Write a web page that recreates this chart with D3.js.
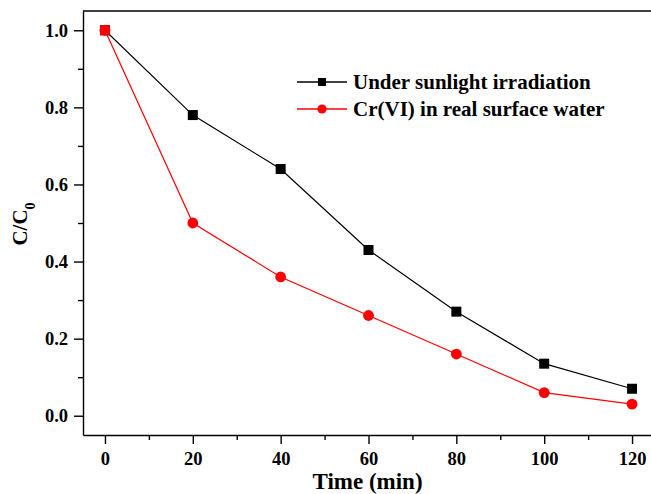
<!DOCTYPE html>
<html>
<head>
<meta charset="utf-8">
<script src="https://cdn.jsdelivr.net/npm/d3@7"></script>
<style>
  body { margin: 0; background: #fff; }
  svg { display: block; }
  .axis text { font-family: "Liberation Serif", "Times New Roman", serif; font-weight: bold; font-size: 18.5px; fill: #000; }
  .axis path, .axis line { stroke: #000; stroke-width: 1.4; }
</style>
</head>
<body>
<script>
    const times = [0, 20, 40, 60, 80, 100, 120];
    const sunlight = [1.0, 0.78, 0.64, 0.43, 0.27, 0.135, 0.07];
    const realWater = [1.0, 0.5, 0.36, 0.26, 0.16, 0.06, 0.03];
    const seriesNames = ['Under sunlight irradiation', 'Cr(VI) in real surface water'];
    const xTicks = [0, 20, 40, 60, 80, 100, 120];
    const yTicks = [0, 0.2, 0.4, 0.6, 0.8, 1.0];

    const W = 651, H = 494;
    const margin = {left: 83, top: 11, right: -3, bottom: 59},
        width = W - margin.left - margin.right,
        height = H - margin.top - margin.bottom;

    const svg = d3.select('body').append('svg')
        .attr('width', W)
        .attr('height', H)
        .append('g')
            .attr('transform', `translate(${margin.left}, ${margin.top})`);

    const xScale = d3.scaleLinear().domain([-5, 125]).range([0, width]);
    const yScale = d3.scaleLinear().domain([-0.05, 1.05]).range([height, 0]);

    // minor ticks
    svg.append('g')
        .attr('class', 'axis')
        .attr('transform', `translate(0, ${height})`)
        .call(d3.axisBottom(xScale).tickValues(d3.range(10, 121, 20)).tickSize(5).tickFormat('').tickSizeOuter(0))
        .select('.domain').remove();
    svg.append('g')
        .attr('class', 'axis')
        .call(d3.axisLeft(yScale).tickValues(d3.range(0.1, 1.0, 0.2)).tickSize(5).tickFormat('').tickSizeOuter(0))
        .select('.domain').remove();

    // main axes
    svg.append('g')
        .attr('class', 'axis x-axis')
        .attr('transform', `translate(0, ${height})`)
        .call(d3.axisBottom(xScale).tickValues(xTicks).tickSize(9).tickPadding(8).tickSizeOuter(0));

    svg.append('g')
        .attr('class', 'axis y-axis')
        .call(d3.axisLeft(yScale).tickValues(yTicks).tickFormat(d3.format('.1f')).tickSize(9).tickPadding(6).tickSizeOuter(0));

    // top frame
    svg.append('line')
        .attr('x1', 0).attr('x2', width).attr('y1', 0).attr('y2', 0)
        .attr('stroke', '#000').attr('stroke-width', 1.4);

    const line = d3.line()
        .x((d, i) => xScale(times[i]))
        .y(d => yScale(d));

    // black series
    svg.append('path')
        .datum(sunlight)
        .attr('d', line)
        .attr('fill', 'none')
        .attr('stroke', '#000')
        .attr('stroke-width', 1.2);
    svg.selectAll('.sq')
        .data(sunlight)
        .enter()
        .append('rect')
            .attr('class', 'sq')
            .attr('x', (d, i) => xScale(times[i]) - 5)
            .attr('y', d => yScale(d) - 5)
            .attr('width', 10)
            .attr('height', 10)
            .attr('fill', '#000');

    // red series
    svg.append('path')
        .datum(realWater)
        .attr('d', line)
        .attr('fill', 'none')
        .attr('stroke', '#ff0000')
        .attr('stroke-width', 1.2);
    svg.selectAll('.dot')
        .data(realWater)
        .enter()
        .append('circle')
            .attr('class', 'dot')
            .attr('cx', (d, i) => xScale(times[i]))
            .attr('cy', d => yScale(d))
            .attr('r', 5.4)
            .attr('fill', '#ff0000');
    // where red sits on top of a black square, the red covers it fully
    svg.selectAll('.cover')
        .data(realWater.map((d, i) => [times[i], d]).filter((p, i) => p[1] === sunlight[i]))
        .enter()
        .append('rect')
            .attr('class', 'cover')
            .attr('x', d => xScale(d[0]) - 5)
            .attr('y', d => yScale(d[1]) - 5)
            .attr('width', 10)
            .attr('height', 10)
            .attr('rx', 1.5)
            .attr('fill', '#ff0000');

    // legend
    const legend = svg.append('g').attr('transform', 'translate(214, 71)');
    seriesNames.forEach((name, i) => {
        const g = legend.append('g').attr('transform', `translate(0, ${i * 27})`);
        g.append('line')
            .attr('x1', 0).attr('x2', 50).attr('y1', 0).attr('y2', 0)
            .attr('stroke', i === 0 ? '#000' : '#ff0000')
            .attr('stroke-width', 1.3);
        if (i === 0) {
            g.append('rect').attr('x', 21).attr('y', -4).attr('width', 8).attr('height', 8).attr('fill', '#000');
        } else {
            g.append('circle').attr('cx', 25).attr('cy', 0).attr('r', 4.6).attr('fill', '#ff0000');
        }
        g.append('text')
            .attr('x', 56)
            .attr('y', 6.5)
            .attr('font-family', '"Liberation Serif", "Times New Roman", serif')
            .attr('font-weight', 'bold')
            .attr('font-size', '21px')
            .text(name);
    });

    // axis titles
    svg.append('text')
        .attr('x', xScale(60) - 1)
        .attr('y', height + 54)
        .attr('text-anchor', 'middle')
        .attr('font-family', '"Liberation Serif", "Times New Roman", serif')
        .attr('font-weight', 'bold')
        .attr('font-size', '23px')
        .text('Time (min)');

    const yTitle = svg.append('text')
        .attr('transform', `translate(-56, ${yScale(0.5) + 1}) rotate(-90)`)
        .attr('text-anchor', 'middle')
        .attr('font-family', '"Liberation Serif", "Times New Roman", serif')
        .attr('font-weight', 'bold')
        .attr('font-size', '21px');
    yTitle.append('tspan').text('C/C');
    yTitle.append('tspan').attr('baseline-shift', 'sub').attr('font-size', '14px').text('0');
</script>
</body>
</html>
